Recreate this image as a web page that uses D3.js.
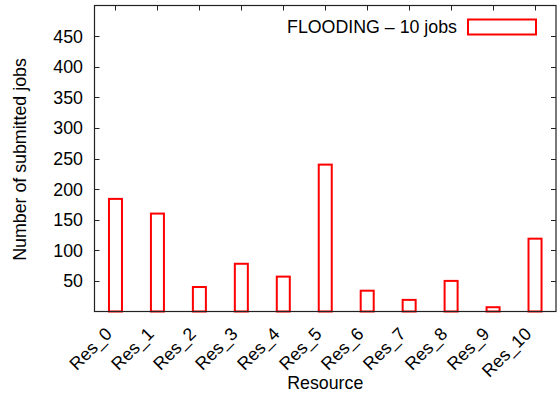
<!DOCTYPE html>
<html>
<head>
<meta charset="utf-8">
<script src="https://cdn.jsdelivr.net/npm/d3@7"></script>
<style>
  body { margin: 0; background: #fff; }
  svg { display: block; font-family: "Liberation Sans", Arial, sans-serif; }
</style>
</head>
<body>
<svg id="chart" width="559" height="398"></svg>
<script>
const categories = ["Res_0", "Res_1", "Res_2", "Res_3", "Res_4", "Res_5", "Res_6", "Res_7", "Res_8", "Res_9", "Res_10"];
const jobs = [184, 160, 40, 78, 57, 240, 34, 19, 50, 7, 119];
const yTicks = [50, 100, 150, 200, 250, 300, 350, 400, 450];
const seriesName = "FLOODING \u2013 10 jobs";

const width = 559;
const height = 398;
const margin = { top: 5.5, right: 3, bottom: 86.5, left: 94.5 };
const fontSize = 17.8;

const svg = d3.select("#chart");

const x = d3.scaleLinear()
  .domain([-0.5, categories.length - 0.5])
  .range([margin.left, width - margin.right]);

const y = d3.scaleLinear()
  .domain([0, 500])
  .range([height - margin.bottom, margin.top]);

const boxW = 0.31;
const red = "#ff0000";
const axisColor = "#222";
const tickLen = 5;

// bars
svg.append("g")
  .selectAll("rect")
  .data(jobs)
  .join("rect")
  .attr("x", (d, i) => x(i - boxW / 2))
  .attr("width", (d, i) => x(i + boxW / 2) - x(i - boxW / 2))
  .attr("y", d => y(d))
  .attr("height", d => y(0) - y(d))
  .attr("fill", "none")
  .attr("stroke", red)
  .attr("stroke-width", 2);

// border
svg.append("rect")
  .attr("x", x.range()[0])
  .attr("y", y.range()[1])
  .attr("width", x.range()[1] - x.range()[0])
  .attr("height", y.range()[0] - y.range()[1])
  .attr("fill", "none")
  .attr("stroke", axisColor)
  .attr("stroke-width", 1.2);

// y ticks (left + mirrored right)
const yg = svg.append("g");
yTicks.forEach(t => {
  const yy = Math.round(y(t)) + 0.5;
  yg.append("line").attr("x1", x.range()[0]).attr("x2", x.range()[0] + tickLen)
    .attr("y1", yy).attr("y2", yy).attr("stroke", axisColor);
  yg.append("line").attr("x1", x.range()[1]).attr("x2", x.range()[1] - tickLen)
    .attr("y1", yy).attr("y2", yy).attr("stroke", axisColor);
  yg.append("text")
    .attr("x", x.range()[0] - 11.5)
    .attr("y", y(t) + 6.4)
    .attr("text-anchor", "end")
    .attr("font-size", fontSize)
    .attr("fill", "#000")
    .text(t);
});

// x ticks (mirrored on top) and rotated labels
const xg = svg.append("g");
categories.forEach((c, i) => {
  const xx = Math.round(x(i)) + 0.5;
  xg.append("line").attr("x1", xx).attr("x2", xx)
    .attr("y1", y.range()[1]).attr("y2", y.range()[1] + tickLen).attr("stroke", axisColor);
  xg.append("text")
    .attr("transform", `translate(${x(i) - 2.5},${y(0) + 23.5}) rotate(-45)`)
    .attr("text-anchor", "end")
    .attr("font-size", fontSize)
    .attr("fill", "#000")
    .text(c);
});

// axis titles
svg.append("text")
  .attr("x", (x.range()[0] + x.range()[1]) / 2)
  .attr("y", 389)
  .attr("text-anchor", "middle")
  .attr("font-size", fontSize)
  .text("Resource");

svg.append("text")
  .attr("transform", `translate(26,${(y.range()[0] + y.range()[1]) / 2 + 1}) rotate(-90)`)
  .attr("text-anchor", "middle")
  .attr("font-size", fontSize)
  .text("Number of submitted jobs");

// legend
svg.append("text")
  .attr("x", 457)
  .attr("y", 33)
  .attr("text-anchor", "end")
  .attr("font-size", fontSize)
  .text(seriesName);

svg.append("rect")
  .attr("x", 468)
  .attr("y", 19.5)
  .attr("width", 68)
  .attr("height", 15)
  .attr("fill", "none")
  .attr("stroke", red)
  .attr("stroke-width", 2);
</script>
</body>
</html>
